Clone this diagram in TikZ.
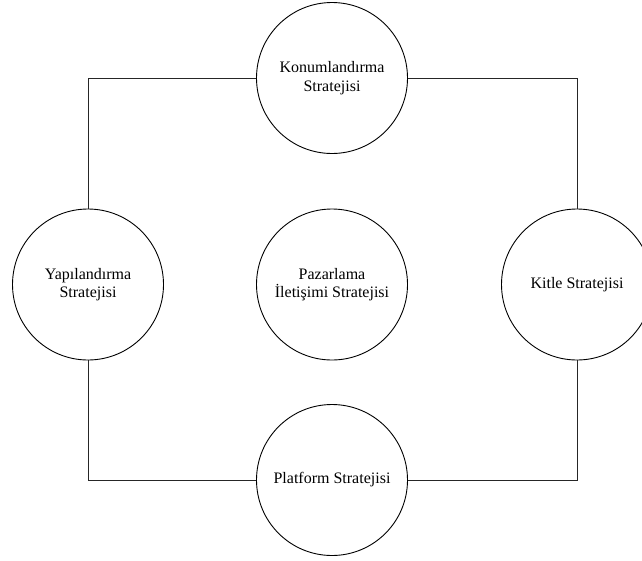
\documentclass[tikz,border=0pt]{standalone}
\usepackage{fontspec}
\setmainfont{Liberation Serif}
\begin{document}
\begin{tikzpicture}[x=1pt,y=-1pt,
  strat/.style={circle,draw=black,line width=0.9pt,minimum size=151pt,inner sep=0pt,align=center,
    font=\fontsize{16}{18.5}\selectfont},
  link/.style={draw=black!85,line width=0.9pt}]
\useasboundingbox (0,0) rectangle (642,560);
\node[strat] (top) at (332,78) {Konumlandırma\\Stratejisi};
\node[strat] (left) at (88,284.5) {Yapılandırma\\Stratejisi};
\node[strat] (mid) at (332,284.5) {Pazarlama\\İletişimi Stratejisi};
\node[strat] (right) at (577,284.5) {Kitle Stratejisi};
\node[strat] (bot) at (332,480) {Platform Stratejisi};
\draw[link] (top.west) -| (left.north);
\draw[link] (top.east) -| (right.north);
\draw[link] (left.south) |- (bot.west);
\draw[link] (right.south) |- (bot.east);
\end{tikzpicture}
\end{document}
